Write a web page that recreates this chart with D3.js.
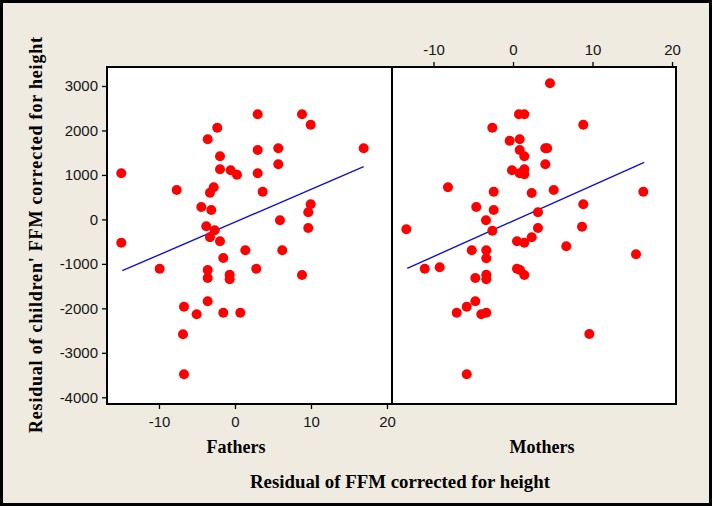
<!DOCTYPE html>
<html>
<head>
<meta charset="utf-8">
<script src="https://cdn.jsdelivr.net/npm/d3@7"></script>
<style>
  html, body { margin: 0; padding: 0; background: #000; }
  svg { display: block; }
</style>
</head>
<body>
<svg id="chart" width="712" height="506"></svg>
<script>
// ---- Data ----
const fathersX = [-14.96, -7.67, -3.59, -2.33, -1.97, -1.97, -0.57, 0.26, -2.80, -3.29, -4.43, -3.12,
  2.99, 2.99, 2.99, 3.64, 5.70, 5.70, 5.92, 8.82, 9.96, 16.93, 9.96, 9.64, 9.64, -3.78, -2.67,
  -14.96, -3.29, -1.97, -1.54, 1.36, 6.22, -9.91, 2.80, 8.82, -3.59, -3.59, -0.70, -0.70,
  -3.59, -6.71, -5.04, -1.54, 0.70, -6.84, -6.71];
const fathersY = [1037, 661, 1801, 2062, 1419, 1127, 1104, 1005, 722, 600, 279, 211,
  2363, 1561, 1037, 623, 1599, 1239, -20, 2363, 2130, 1599, 340, 160, -193, -155, -245,
  -524, -403, -492, -868, -695, -695, -1109, -1109, -1250, -1138, -1318, -1244, -1347,
  -1842, -1963, -2134, -2098, -2098, -2584, -3483];

const mothersX = [4.65, 0.75, 1.42, 8.84, -2.60, -0.42, 0.84, 0.84, 1.42, 4.06, 4.30, 4.06,
  -0.13, 0.84, 1.42, 1.42, -8.18, -2.43, 2.35, 5.12, 16.39, -4.62, -2.43, 8.84, 3.14,
  -3.40, 8.68, -13.42, -2.60, 3.14, 0.50, 1.42, 2.35, -5.19, -3.36, -3.36, 6.70, 15.47,
  -11.10, -9.22, 0.50, 0.88, 1.42, -4.74, -3.36, -3.36, -4.74, -5.82, -7.08, -3.99, -3.36,
  9.60, -5.82];
const mothersY = [3061, 2363, 2363, 2130, 2062, 1770, 1801, 1561, 1419, 1599, 1599, 1239,
  1104, 1037, 1127, 1014, 722, 623, 594, 661, 623, 279, 211, 340, 160,
  -20, -164, -223, -254, -193, -492, -524, -403, -695, -695, -875, -605, -785,
  -1109, -1077, -1109, -1138, -1250, -1318, -1244, -1347, -1842, -1963, -2098, -2134, -2098,
  -2577, -3483];

const fathersFitX = [-14.83, 16.93];
const fathersFitY = [-1154, 1185];
const mothersFitX = [-13.3, 16.5];
const mothersFitY = [-1100, 1284];

const yTicks = [-4000, -3000, -2000, -1000, 0, 1000, 2000, 3000];
const xTicks = [-10, 0, 10, 20];
const panelLabels = ["Fathers", "Mothers"];
const yTitle = "Residual of children' FFM corrected for height";
const xTitle = "Residual of FFM corrected for height";

// ---- Layout ----
const W = 712, H = 506;
const L = 107, MID = 392, R = 676, T = 67, B = 404;

const svg = d3.select("#chart");
svg.append("rect").attr("x", 3).attr("y", 3).attr("width", W - 6).attr("height", H - 6)
  .attr("fill", "#efebe1");
svg.append("rect").attr("x", L).attr("y", T).attr("width", R - L).attr("height", B - T)
  .attr("fill", "#ffffff");

const y = d3.scaleLinear().domain([-4151, 3427]).range([B, T]);
const xF = d3.scaleLinear().domain([-16.84, 20.66]).range([L, MID]);
const xM = d3.scaleLinear().domain([-15.22, 20.50]).range([MID, R]);

const tickFont = "'Liberation Sans', Arial, sans-serif";
const titleFont = "'Liberation Serif', 'Times New Roman', serif";
const fmt = d => String(d);

function styleAxis(g) {
  g.select(".domain").remove();
  g.selectAll("line").attr("stroke", "#000").attr("stroke-width", 1.3);
  g.selectAll("text").attr("font-family", tickFont).attr("font-size", 15).attr("fill", "#151515");
}

svg.append("g").attr("transform", `translate(${L},0)`)
  .call(d3.axisLeft(y).tickValues(yTicks).tickSize(5).tickPadding(4).tickFormat(fmt))
  .call(styleAxis);

svg.append("g").attr("transform", `translate(0,${B})`)
  .call(d3.axisBottom(xF).tickValues(xTicks).tickSize(5).tickPadding(7).tickFormat(fmt))
  .call(styleAxis);

svg.append("g").attr("transform", `translate(0,${T})`)
  .call(d3.axisTop(xM).tickValues(xTicks).tickSize(5).tickPadding(7).tickFormat(fmt))
  .call(styleAxis);

// clip
svg.append("clipPath").attr("id", "clipF").append("rect")
  .attr("x", L).attr("y", T).attr("width", MID - L).attr("height", B - T);
svg.append("clipPath").attr("id", "clipM").append("rect")
  .attr("x", MID).attr("y", T).attr("width", R - MID).attr("height", B - T);

function panel(xs, ys, fx, fy, xScale, clip) {
  const g = svg.append("g").attr("clip-path", `url(#${clip})`);
  const fit = fx.map((v, i) => [v, fy[i]]);
  g.append("path")
    .attr("d", d3.line().x(d => xScale(d[0])).y(d => y(d[1]))(fit))
    .attr("fill", "none").attr("stroke", "#1010d0").attr("stroke-width", 1.4);
  g.selectAll("circle").data(xs.map((v, i) => [v, ys[i]])).join("circle")
    .attr("cx", d => xScale(d[0])).attr("cy", d => y(d[1])).attr("r", 5)
    .attr("fill", "#ff0000");
}
panel(fathersX, fathersY, fathersFitX, fathersFitY, xF, "clipF");
panel(mothersX, mothersY, mothersFitX, mothersFitY, xM, "clipM");

// frame
svg.append("rect").attr("x", L).attr("y", T).attr("width", R - L).attr("height", B - T)
  .attr("fill", "none").attr("stroke", "#000").attr("stroke-width", 2);
svg.append("line").attr("x1", MID).attr("x2", MID).attr("y1", T).attr("y2", B)
  .attr("stroke", "#000").attr("stroke-width", 2);

// titles
svg.append("text").attr("x", 236).attr("y", 453)
  .attr("text-anchor", "middle").attr("font-family", titleFont).attr("font-weight", "bold")
  .attr("font-size", 18).attr("fill", "#000").text(panelLabels[0]);
svg.append("text").attr("x", 542).attr("y", 453)
  .attr("text-anchor", "middle").attr("font-family", titleFont).attr("font-weight", "bold")
  .attr("font-size", 18).attr("fill", "#000").text(panelLabels[1]);
svg.append("text").attr("x", 400).attr("y", 488)
  .attr("text-anchor", "middle").attr("font-family", titleFont).attr("font-weight", "bold")
  .attr("font-size", 18).attr("fill", "#000")
  .attr("textLength", 300).attr("lengthAdjust", "spacingAndGlyphs").text(xTitle);
svg.append("text").attr("transform", "translate(42,235) rotate(-90)")
  .attr("text-anchor", "middle").attr("font-family", titleFont).attr("font-weight", "bold")
  .attr("font-size", 18).attr("fill", "#000")
  .attr("textLength", 396).attr("lengthAdjust", "spacing").text(yTitle);
</script>
</body>
</html>
